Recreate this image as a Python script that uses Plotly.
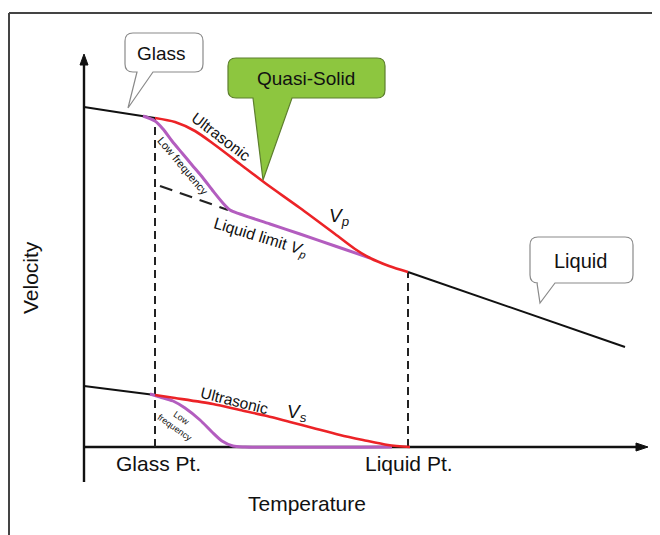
import plotly.graph_objects as go

# ---- schematic data (temperature units, velocity units) ----
glass_T = [0, 71]
glass_V = [340, 329]

vp_ultra_T = [71, 91, 111, 131, 156, 181, 216, 251, 271, 286, 305, 324]
vp_ultra_V = [329, 325, 316, 302, 283, 264, 239, 213, 198, 189, 181, 175]

vp_low_T = [59, 71, 79, 88, 98, 108, 119, 129, 138, 146, 156, 186, 216, 251, 286]
vp_low_V = [331, 326, 318, 306, 294, 282, 269, 256, 245, 237, 233, 223, 213, 201, 189]

liquid_T = [324, 541]
liquid_V = [175, 100]

limit_T = [76, 144]
limit_V = [261, 237]

vs_glass_T = [0, 71]
vs_glass_V = [61, 52]

vs_ultra_T = [71, 91, 129, 156, 183, 206, 229, 256, 279, 304, 326]
vs_ultra_V = [52, 49, 43, 37, 31, 25, 19, 12, 7, 2, 0]

vs_low_T = [66, 76, 89, 101, 116, 128, 138, 149, 161, 308]
vs_low_V = [53, 50, 46, 39, 27, 15, 6, 1, 0, 0]

glass_pt = 71
liquid_pt = 324
tick_labels = ["Glass Pt.", "Liquid Pt."]

RED = "#ec2327"
PURPLE = "#b35dbf"
FONT = "Arial, Liberation Sans, sans-serif"

fig = go.Figure()

def add_line(x, y, color, width, dash="solid", shape="spline"):
    fig.add_trace(go.Scatter(x=x, y=y, mode="lines",
                             line=dict(color=color, width=width, dash=dash, shape=shape, smoothing=0.8),
                             hoverinfo="skip", showlegend=False))

# dashed verticals
add_line([glass_pt, glass_pt], [0, glass_V[1]], "#222", 2, "8px,5px", "linear")
add_line([liquid_pt, liquid_pt], [0, liquid_V[0]], "#222", 2, "8px,5px", "linear")
add_line(limit_T, limit_V, "#222", 2.2, "13px,8px", "linear")

add_line(glass_T, glass_V, "#111", 2, shape="linear")
add_line(liquid_T, liquid_V, "#111", 2, shape="linear")
add_line(vs_glass_T, vs_glass_V, "#111", 2, shape="linear")

add_line(vp_low_T, vp_low_V, PURPLE, 3)
add_line(vp_ultra_T, vp_ultra_V, RED, 2.6)

# axes (lines + arrowheads)
fig.add_shape(type="line", xref="x", yref="y", x0=0, x1=0, y0=-35, y1=385,
              line=dict(color="#111", width=2.4), layer="below")
fig.add_shape(type="line", xref="x", yref="y", x0=0, x1=556, y0=0, y1=0,
              line=dict(color="#111", width=2.4), layer="below")
fig.add_shape(type="path", xref="x", yref="y", path="M -4,382 L 4,382 L 0,393 Z",
              fillcolor="#111", line=dict(color="#111", width=1))
fig.add_shape(type="path", xref="x", yref="y", path="M 552,-4 L 552,4 L 564,0 Z",
              fillcolor="#111", line=dict(color="#111", width=1))

add_line(vs_low_T, vs_low_V, PURPLE, 3)
add_line(vs_ultra_T, vs_ultra_V, RED, 2.6)

def callout(x0, x1, y0, y1, bl, br, tx, ty, r=8):
    return (f"M {x0+r},{y1} L {x1-r},{y1} Q {x1},{y1} {x1},{y1-r} L {x1},{y0+r} "
            f"Q {x1},{y0} {x1-r},{y0} L {br},{y0} L {tx},{ty} L {bl},{y0} L {x0+r},{y0} "
            f"Q {x0},{y0} {x0},{y0+r} L {x0},{y1-r} Q {x0},{y1} {x0+r},{y1} Z")

fig.add_shape(type="path", path=callout(41, 119, 375, 414, 53, 69, 44, 339),
              xref="x", yref="y", fillcolor="white", line=dict(color="#8a8a8a", width=1.2))
fig.add_shape(type="path", path=callout(144, 301, 349, 389, 169, 208, 179, 267),
              xref="x", yref="y", fillcolor="#8dc63f", line=dict(color="#5d7f2e", width=1.2))
fig.add_shape(type="path", path=callout(446, 549, 164, 210, 453, 471, 456, 144),
              xref="x", yref="y", fillcolor="white", line=dict(color="#8a8a8a", width=1.2))

# frame (page has an 8px body margin, so figure origin sits at screen (8, 8))
fig.add_shape(type="line", xref="paper", yref="paper", x0=1/660, x1=1, y0=1-5/535, y1=1-5/535,
              line=dict(color="#444", width=2))
fig.add_shape(type="line", xref="paper", yref="paper", x0=1/660, x1=1/660, y0=0, y1=1-5/535,
              line=dict(color="#444", width=2))

def label(x, y, text, size, angle=0, color="#111"):
    fig.add_annotation(x=x, y=y, xref="x", yref="y", text=text, showarrow=False,
                       textangle=angle, font=dict(family=FONT, size=size, color=color))

label(77, 394, "Glass", 19)
label(222, 369, "Quasi-Solid", 19)
label(496, 186, "Liquid", 20)
label(-54, 169, "Velocity", 21, -90)
label(223, -56, "Temperature", 21)
label(glass_pt + 3, -16, tick_labels[0], 21)
label(liquid_pt + 1, -16, tick_labels[1], 21)
label(137, 311, "Ultrasonic", 15.5, 37)
label(99, 281, "Low frequency", 11, 50)
label(176, 210, "Liquid limit <i>V</i><sub><i>p</i></sub>", 16, 17)
label(255, 230, "<i>V</i><sub><i>p</i></sub>", 19)
label(150, 47, "Ultrasonic", 15.5, 14)
label(213, 34, "<i>V</i><sub><i>s</i></sub>", 19)
label(94, 24, "Low<br>frequency", 9, 35)

fig.update_layout(
    width=660, height=535,
    margin=dict(l=0, r=0, t=0, b=0),
    paper_bgcolor="white", plot_bgcolor="white",
    xaxis=dict(range=[-76, 584], visible=False, fixedrange=True),
    yaxis=dict(range=[-96, 439], visible=False, fixedrange=True),
    showlegend=False,
)

fig.write_html("out.html")
